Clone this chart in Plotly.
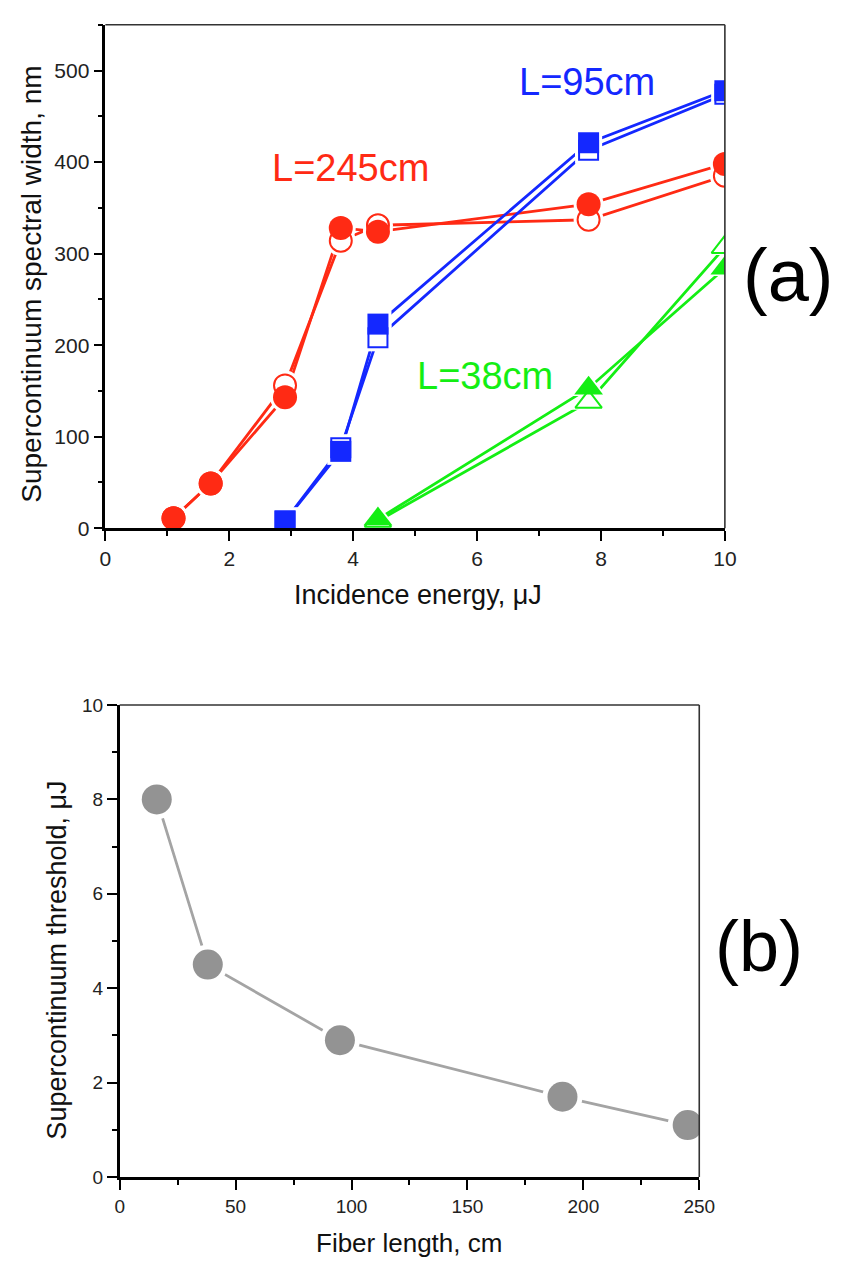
import plotly.graph_objects as go

W, H = 849, 1266

# ---- Panel (a) data: Incidence energy (uJ) vs spectral width (nm)
red_x = [1.1, 1.7, 2.9, 3.8, 4.4, 7.8, 10.0]
red_filled = [11, 49, 143, 328, 324, 354, 398]
red_open = [11, 49, 156, 314, 331, 337, 385]

blue_x = [2.9, 3.8, 4.4, 7.8, 10.0]
blue_filled = [8, 84, 223, 421, 478]
blue_open = [8, 88, 208, 413, 474]

green_x = [4.4, 7.8, 10.0]
green_filled = [10, 153, 284]
green_open = [8, 138, 307]

# ---- Panel (b) data: Fiber length (cm) vs threshold (uJ)
fiber_len = [16, 38, 95, 191, 245]
threshold = [8.0, 4.5, 2.9, 1.7, 1.1]

RED = "#FF2A14"
BLUE = "#1428FF"
GREEN = "#14EE14"
GREY_M = "#939393"
GREY_L = "#A4A4A4"
FONT = "Liberation Sans, Arial, sans-serif"

fig = go.Figure()

def px_x(p):
    return p / W

def px_y(p):
    return 1 - p / H

series_a = [
    (red_x, red_open, RED, "circle-open", 24),
    (red_x, red_filled, RED, "circle", 24),
    (blue_x, blue_open, BLUE, "square-open", 21),
    (blue_x, blue_filled, BLUE, "square", 21),
    (green_x, green_open, GREEN, "triangle-up-open", 25),
    (green_x, green_filled, GREEN, "triangle-up", 25),
]

# lines first
for xs, ys, c, sym, sz in series_a:
    fig.add_trace(go.Scatter(x=xs, y=ys, mode="lines", line=dict(color=c, width=2.8),
                             xaxis="x", yaxis="y", showlegend=False, hoverinfo="skip"))
# white halos (gaps around markers)
for xs, ys, c, sym, sz in series_a:
    base = sym.replace("-open", "")
    fig.add_trace(go.Scatter(x=xs, y=ys, mode="markers",
                             marker=dict(symbol=base, size=sz + 6, color="white", line=dict(width=0)),
                             xaxis="x", yaxis="y", showlegend=False, hoverinfo="skip"))
# open markers then filled markers
for xs, ys, c, sym, sz in series_a:
    if sym.endswith("-open"):
        fig.add_trace(go.Scatter(x=xs, y=ys, mode="markers",
                                 marker=dict(symbol=sym.replace("-open", ""), size=sz - 2, color="white",
                                             line=dict(color=c, width=2)),
                                 xaxis="x", yaxis="y", showlegend=False))
for xs, ys, c, sym, sz in series_a:
    if not sym.endswith("-open"):
        fig.add_trace(go.Scatter(x=xs, y=ys, mode="markers",
                                 marker=dict(symbol=sym, size=sz, color=c, line=dict(width=0)),
                                 xaxis="x", yaxis="y", showlegend=False))

# panel (b)
fig.add_trace(go.Scatter(x=fiber_len, y=threshold, mode="lines", line=dict(color=GREY_L, width=2.8),
                         xaxis="x2", yaxis="y2", showlegend=False, hoverinfo="skip"))
fig.add_trace(go.Scatter(x=fiber_len, y=threshold, mode="markers",
                         marker=dict(size=40, color="white", line=dict(width=0)),
                         xaxis="x2", yaxis="y2", showlegend=False, hoverinfo="skip"))
fig.add_trace(go.Scatter(x=fiber_len, y=threshold, mode="markers",
                         marker=dict(size=30, color=GREY_M, line=dict(width=0)),
                         xaxis="x2", yaxis="y2", showlegend=False))

def axis(domain, rng, dtick, minor_dtick, anchor, fsize, ticklen=10):
    return dict(domain=domain, range=rng, dtick=dtick, tick0=0, anchor=anchor,
                showline=True, linecolor="black", linewidth=2.5, mirror=False,
                ticks="outside", ticklen=ticklen, tickwidth=2, tickcolor="black",
                minor=dict(dtick=minor_dtick, ticks="outside", ticklen=5, tickwidth=2, tickcolor="black"),
                showgrid=False, zeroline=False,
                tickfont=dict(family=FONT, size=fsize, color="#222"))

xa = [px_x(102), px_x(738)]
ya = [px_y(527), px_y(15)]
xb = [px_x(116.7), px_x(711.7)]
yb = [px_y(1186.7), px_y(706.7)]

fig.update_layout(
    width=W, height=H, margin=dict(l=0, r=0, t=0, b=0),
    paper_bgcolor="white", plot_bgcolor="white",
    xaxis=axis(xa, [0, 10], 2, 1, "y", 21),
    yaxis=axis(ya, [0, 550], 100, 50, "x", 21, ticklen=9),
    xaxis2=axis(xb, [0, 250], 50, 25, "y2", 19),
    yaxis2=axis(yb, [0, 10], 2, 1, "x2", 19),
)

# top/right frame lines
shapes = []
for xr, yr in (("x", "y"), ("x2", "y2")):
    shapes.append(dict(type="line", xref=f"{xr} domain", yref=f"{yr} domain", x0=0, x1=1, y0=1, y1=1,
                       line=dict(color="#333", width=1.6)))
    shapes.append(dict(type="line", xref=f"{xr} domain", yref=f"{yr} domain", x0=1, x1=1, y0=0, y1=1,
                       line=dict(color="#333", width=1.6)))
fig.update_layout(shapes=shapes)

def ann(text, x, y, size, color="#111", angle=0):
    fig.add_annotation(text=text, x=px_x(x), y=px_y(y), xref="paper", yref="paper",
                       showarrow=False, textangle=angle, xanchor="center", yanchor="middle",
                       font=dict(family=FONT, size=size, color=color))

ann("Incidence energy, \u03bcJ", 423, 595, 27)
ann("Supercontinuum spectral width, nm", 26, 279, 28, angle=-90)
ann("Fiber length, cm", 414, 1254, 26)
ann("Supercontinuum threshold, \u03bcJ", 52, 966, 27, angle=-90)

ann("L=245cm", 354, 161, 38, RED)
ann("L=95cm", 596, 73, 38, BLUE)
ann("L=38cm", 492, 372, 38, GREEN)
ann("(a)", 803, 270, 74, "black")
ann("(b)", 773, 952, 72, "black")

fig.write_html("out.html",
               post_script="document.body.style.margin='0';document.body.style.padding='0';"
                           "document.documentElement.style.overflow='hidden';")
